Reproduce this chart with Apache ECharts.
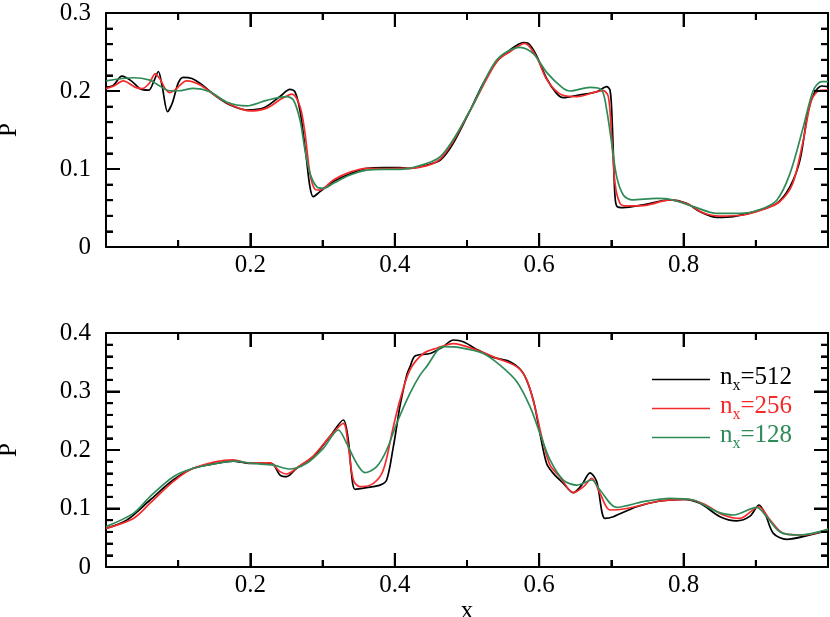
<!DOCTYPE html>
<html>
<head>
<meta charset="utf-8">
<script src="https://cdn.jsdelivr.net/npm/echarts@6/dist/echarts.min.js"></script>
<style>
  html, body { margin: 0; padding: 0; background: #fff; }
  #chart { width: 830px; height: 617px; }
</style>
</head>
<body>
<div id="chart"></div>
<script>
// series names / legend
const seriesNames = ['n_x=512', 'n_x=256', 'n_x=128'];
const seriesColors = ['#000000', '#f52a2a', '#2e8b57'];

// tick values
const xMajor = [0.2, 0.4, 0.6, 0.8];
const xMinor = [0.1, 0.3, 0.5, 0.7, 0.9];
const yMaxTop = 0.3;
const yMaxBot = 0.4;

// top panel, [x, P]
const top512 = [
  [0, 0.205], [0.01, 0.207], [0.022, 0.219], [0.035, 0.213], [0.047, 0.203], [0.059, 0.201],
  [0.066, 0.212], [0.0725, 0.225], [0.078, 0.205], [0.0853, 0.1735], [0.092, 0.185], [0.1, 0.21],
  [0.107, 0.2175], [0.119, 0.216], [0.130, 0.210], [0.153, 0.193], [0.172, 0.182], [0.195, 0.1756],
  [0.218, 0.178], [0.241, 0.193], [0.2548, 0.202], [0.2618, 0.199], [0.2687, 0.175], [0.274, 0.14],
  [0.278, 0.11], [0.2825, 0.077], [0.287, 0.0645], [0.2964, 0.071], [0.315, 0.084], [0.338, 0.094],
  [0.361, 0.1009], [0.384, 0.1017], [0.407, 0.1017], [0.421, 0.1009], [0.444, 0.105], [0.463, 0.1115],
  [0.481, 0.133], [0.5046, 0.1756], [0.5226, 0.21], [0.541, 0.2376], [0.5596, 0.2526], [0.578, 0.262],
  [0.585, 0.261], [0.596, 0.246], [0.6103, 0.216], [0.624, 0.197], [0.6334, 0.1915], [0.656, 0.195],
  [0.68, 0.199], [0.6935, 0.2056], [0.698, 0.2013], [0.7004, 0.1756], [0.7027, 0.12], [0.705, 0.0645],
  [0.708, 0.0517], [0.7165, 0.0504], [0.744, 0.054], [0.781, 0.0603], [0.804, 0.056], [0.8227, 0.0453],
  [0.8458, 0.038], [0.8689, 0.039], [0.901, 0.046], [0.929, 0.056], [0.9474, 0.0774], [0.9612, 0.1115],
  [0.9728, 0.1756], [0.982, 0.199], [0.9912, 0.2064], [1.0, 0.2055]
];
const top256 = [
  [0, 0.203], [0.01, 0.206], [0.024, 0.213], [0.04, 0.205], [0.05, 0.203], [0.06, 0.21],
  [0.068, 0.222], [0.075, 0.215], [0.082, 0.203], [0.0886, 0.198], [0.095, 0.201], [0.1117, 0.213],
  [0.13, 0.208], [0.153, 0.193], [0.176, 0.181], [0.199, 0.1744], [0.2225, 0.178], [0.243, 0.19],
  [0.2576, 0.196], [0.2687, 0.18], [0.2756, 0.146], [0.2825, 0.094], [0.2895, 0.074], [0.2964, 0.073],
  [0.315, 0.086], [0.338, 0.096], [0.361, 0.1009], [0.384, 0.1004], [0.407, 0.1009], [0.421, 0.1009],
  [0.463, 0.113], [0.5046, 0.1756], [0.541, 0.2376], [0.5596, 0.2504], [0.58, 0.261], [0.596, 0.244],
  [0.6103, 0.215], [0.629, 0.196], [0.652, 0.1927], [0.6796, 0.1991], [0.6888, 0.2004], [0.6958, 0.1927],
  [0.7004, 0.1415], [0.705, 0.0816], [0.7119, 0.056], [0.7211, 0.0526], [0.75, 0.0538], [0.781, 0.0603],
  [0.808, 0.054], [0.8265, 0.044], [0.85, 0.0397], [0.8827, 0.041], [0.91, 0.048], [0.933, 0.058],
  [0.951, 0.081], [0.9658, 0.137], [0.977, 0.188], [0.989, 0.201], [1.0, 0.2013]
];
const top128 = [
  [0, 0.213], [0.0379, 0.217], [0.061, 0.214], [0.07, 0.209], [0.0886, 0.2003], [0.1, 0.2003],
  [0.1209, 0.2034], [0.144, 0.199], [0.167, 0.186], [0.1948, 0.181], [0.2225, 0.188], [0.2502, 0.1927],
  [0.2595, 0.1885], [0.2687, 0.1628], [0.2756, 0.1244], [0.2825, 0.0944], [0.2918, 0.0774], [0.301, 0.0752],
  [0.315, 0.0816], [0.338, 0.0923], [0.361, 0.0986], [0.384, 0.0996], [0.407, 0.0996], [0.421, 0.1009],
  [0.463, 0.1158], [0.5046, 0.1756], [0.541, 0.2397], [0.5734, 0.256], [0.5918, 0.248], [0.6103, 0.2239],
  [0.6316, 0.2047], [0.643, 0.2], [0.6704, 0.2047], [0.6865, 0.2013], [0.6935, 0.1756], [0.7004, 0.133],
  [0.7073, 0.0902], [0.7165, 0.0667], [0.7281, 0.0603], [0.7627, 0.0624], [0.7811, 0.0612], [0.814, 0.0517],
  [0.8458, 0.043], [0.878, 0.043], [0.9058, 0.048], [0.929, 0.060], [0.9474, 0.0944], [0.9658, 0.154],
  [0.9797, 0.201], [0.991, 0.212], [1.0, 0.212]
];

// bottom panel, [x, P]
const bot512 = [
  [0, 0.066], [0.0286, 0.080], [0.061, 0.1145], [0.093, 0.1487], [0.121, 0.1687], [0.153, 0.177],
  [0.176, 0.181], [0.199, 0.177], [0.2225, 0.178], [0.232, 0.175], [0.241, 0.157], [0.250, 0.1544],
  [0.264, 0.1687], [0.287, 0.1886], [0.31, 0.2228], [0.3287, 0.2513], [0.3356, 0.217], [0.34, 0.160],
  [0.345, 0.1328], [0.361, 0.1356], [0.3795, 0.140], [0.3887, 0.1487], [0.398, 0.2057], [0.4026, 0.24],
  [0.407, 0.274], [0.4165, 0.328], [0.421, 0.342], [0.428, 0.3607], [0.4488, 0.365], [0.467, 0.3766],
  [0.481, 0.388], [0.4949, 0.385], [0.5134, 0.372], [0.5365, 0.3584], [0.5596, 0.351], [0.578, 0.331],
  [0.5918, 0.2855], [0.601, 0.2285], [0.6103, 0.177], [0.6196, 0.160], [0.6334, 0.143], [0.6473, 0.127],
  [0.6588, 0.140], [0.6704, 0.161], [0.6796, 0.146], [0.6911, 0.083], [0.7027, 0.086], [0.735, 0.103],
  [0.7673, 0.1128], [0.7996, 0.1157], [0.8227, 0.1088], [0.8504, 0.086], [0.8735, 0.079], [0.892, 0.087],
  [0.9044, 0.106], [0.9127, 0.0917], [0.9243, 0.0575], [0.9427, 0.0473], [0.975, 0.0547], [1.0, 0.063]
];
const bot256 = [
  [0, 0.066], [0.038, 0.083], [0.061, 0.109], [0.093, 0.1459], [0.121, 0.1687], [0.176, 0.183],
  [0.199, 0.1777], [0.227, 0.178], [0.241, 0.163], [0.250, 0.159], [0.268, 0.1726], [0.287, 0.1897],
  [0.31, 0.2228], [0.3287, 0.2456], [0.3356, 0.206], [0.3426, 0.1487], [0.3518, 0.1373], [0.3703, 0.143],
  [0.3841, 0.1658], [0.398, 0.24], [0.4072, 0.2855], [0.421, 0.3368], [0.4395, 0.365], [0.458, 0.374],
  [0.481, 0.382], [0.5134, 0.371], [0.541, 0.357], [0.5688, 0.3425], [0.5827, 0.32], [0.594, 0.274],
  [0.6034, 0.223], [0.615, 0.174], [0.6288, 0.154], [0.6473, 0.127], [0.6611, 0.137], [0.6727, 0.1516],
  [0.6842, 0.126], [0.698, 0.0974], [0.721, 0.100], [0.7673, 0.1128], [0.8043, 0.1157], [0.8273, 0.108],
  [0.855, 0.089], [0.878, 0.083], [0.904, 0.103], [0.92, 0.080], [0.9381, 0.0575], [0.966, 0.0547],
  [1.0, 0.0644]
];
const bot128 = [
  [0, 0.069], [0.0379, 0.0917], [0.0609, 0.1202], [0.0933, 0.1544], [0.121, 0.1687], [0.153, 0.177],
  [0.176, 0.181], [0.204, 0.177], [0.2317, 0.174], [0.2548, 0.1675], [0.2779, 0.1772], [0.301, 0.2028],
  [0.3218, 0.2342], [0.3333, 0.2114], [0.3472, 0.1772], [0.3587, 0.1613], [0.3749, 0.1715], [0.3887, 0.2],
  [0.4026, 0.2456], [0.421, 0.2969], [0.4349, 0.328], [0.444, 0.3425], [0.467, 0.3766], [0.490, 0.375],
  [0.5226, 0.365], [0.5457, 0.345], [0.5688, 0.317], [0.5873, 0.274], [0.601, 0.2285], [0.615, 0.183],
  [0.6334, 0.1487], [0.652, 0.140], [0.6727, 0.1487], [0.6842, 0.1316], [0.7073, 0.102], [0.7442, 0.1117],
  [0.781, 0.1174], [0.8135, 0.1145], [0.8458, 0.0946], [0.869, 0.0889], [0.9012, 0.102], [0.915, 0.086],
  [0.9335, 0.060], [0.961, 0.0547], [1.0, 0.0644]
];

const topData = [top512, top256, top128];
const botData = [bot512, bot256, bot128];

const FONT = 'Liberation Serif';
function blk() { return { color: '#000', width: 2 }; }

function xAxisOf(gridIndex, position, withLabels, name) {
  const ax = {
    type: 'value', gridIndex: gridIndex, position: position,
    min: 0, max: 1, interval: 0.2,
    axisLine: { show: true, onZero: false, lineStyle: blk() },
    axisTick: { show: true, inside: true, length: 14, lineStyle: blk() },
    minorTick: { show: true, splitNumber: 2, length: 7, lineStyle: blk() },
    splitLine: { show: false },
    axisLabel: {
      show: withLabels, margin: 6, showMinLabel: false, showMaxLabel: false,
      fontFamily: FONT, fontSize: 25, color: '#000'
    }
  };
  if (name) {
    ax.name = name;
    ax.nameLocation = 'middle';
    ax.nameGap = 32;
    ax.nameTextStyle = { fontFamily: FONT, fontSize: 25, color: '#000' };
  }
  return ax;
}

function yAxisOf(gridIndex, position, max, withLabels, name) {
  const ax = {
    type: 'value', gridIndex: gridIndex, position: position,
    min: 0, max: max, interval: 0.1,
    axisLine: { show: true, onZero: false, lineStyle: blk() },
    axisTick: { show: true, inside: true, length: 14, lineStyle: blk() },
    minorTick: { show: true, splitNumber: 5, length: 7, lineStyle: blk() },
    splitLine: { show: false },
    axisLabel: { show: withLabels, margin: 15, fontFamily: FONT, fontSize: 25, color: '#000' }
  };
  if (name) {
    ax.name = name;
    ax.nameLocation = 'middle';
    ax.nameGap = 84;
    ax.nameTextStyle = { fontFamily: FONT, fontSize: 25, color: '#000' };
  }
  return ax;
}

const series = [];
[topData, botData].forEach(function (panel, p) {
  panel.forEach(function (d, i) {
    series.push({
      name: seriesNames[i],
      type: 'line',
      xAxisIndex: p * 2,
      yAxisIndex: p * 2,
      data: d,
      symbol: 'none',
      smooth: 0.3,
      color: seriesColors[i],
      lineStyle: { width: 1.7, color: seriesColors[i] }
    });
  });
});

const legendRich = {};
['k', 'r', 'g'].forEach(function (key, i) {
  legendRich[key] = { fontFamily: FONT, fontSize: 25, color: seriesColors[i], lineHeight: 29, verticalAlign: 'bottom', padding: [0, 0, 4, 0] };
  legendRich[key + 's'] = { fontFamily: FONT, fontSize: 16, color: seriesColors[i], lineHeight: 29, verticalAlign: 'bottom' };
});

const chart = echarts.init(document.getElementById('chart'), null, { renderer: 'canvas' });
chart.setOption({
  animation: false,
  grid: [
    { left: 106, top: 13, width: 722, height: 234, outerBoundsMode: 'none' },
    { left: 106, top: 333, width: 722, height: 234, outerBoundsMode: 'none' }
  ],
  xAxis: [
    xAxisOf(0, 'bottom', true),
    xAxisOf(0, 'top', false),
    xAxisOf(1, 'bottom', true, 'x'),
    xAxisOf(1, 'top', false)
  ],
  yAxis: [
    yAxisOf(0, 'left', yMaxTop, true, 'P'),
    yAxisOf(0, 'right', yMaxTop, false),
    yAxisOf(1, 'left', yMaxBot, true, 'P'),
    yAxisOf(1, 'right', yMaxBot, false)
  ],
  legend: {
    orient: 'vertical',
    left: 647, top: 360,
    icon: 'rect',
    itemWidth: 58, itemHeight: 1.7, itemGap: 0,
    selectedMode: false,
    data: seriesNames,
    formatter: function (name) {
      const key = ['k', 'r', 'g'][seriesNames.indexOf(name)];
      return '{' + key + '|n}{' + key + 's|x}{' + key + '|=' + name.split('=')[1] + '}';
    },
    textStyle: { padding: [0, 0, 0, 5], rich: legendRich }
  },
  series: series
});

// tick marks on all four frame sides, placed through the axes' own scales
// (the built-in axisTick did not show up in this build)
function tickLine(x1, y1, x2, y2) {
  return {
    type: 'line', silent: true, z: 100,
    shape: { x1: x1, y1: y1, x2: x2, y2: y2 },
    style: { stroke: '#000', lineWidth: 2 }
  };
}
const tickEls = [];
[[0, yMaxTop], [1, yMaxBot]].forEach(function (g) {
  const xi = g[0] * 2, yi = g[0] * 2;
  const bottom = chart.convertToPixel({ yAxisIndex: yi }, 0);
  const top = chart.convertToPixel({ yAxisIndex: yi }, g[1]);
  const left = chart.convertToPixel({ xAxisIndex: xi }, 0);
  const right = chart.convertToPixel({ xAxisIndex: xi }, 1);
  xMajor.concat(xMinor).forEach(function (v) {
    const len = xMajor.indexOf(v) >= 0 ? 14 : 7;
    const px = chart.convertToPixel({ xAxisIndex: xi }, v);
    tickEls.push(tickLine(px, bottom, px, bottom - len));
    tickEls.push(tickLine(px, top, px, top + len));
  });
  const steps = Math.round(g[1] / 0.02);
  for (let k = 1; k < steps; k++) {
    const len = k % 5 === 0 ? 14 : 7;
    const py = chart.convertToPixel({ yAxisIndex: yi }, k * 0.02);
    tickEls.push(tickLine(left, py, left + len, py));
    tickEls.push(tickLine(right, py, right - len, py));
  }
});
chart.setOption({ graphic: { elements: tickEls } });
</script>
</body>
</html>
